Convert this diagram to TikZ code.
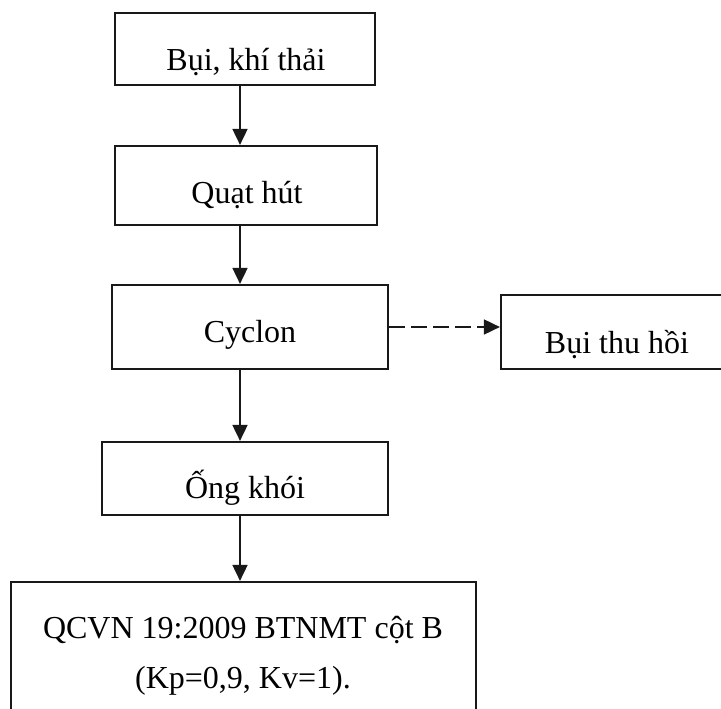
\documentclass[tikz,border=0pt]{standalone}
\usepackage{fontspec}
\setmainfont{Liberation Serif}
\usetikzlibrary{arrows.meta}

\tikzset{
  box/.style={draw=black!90, line width=2.2pt, rectangle, inner sep=0pt, fill=none},
  lbl/.style={anchor=base, inner sep=0pt, font=\fontsize{32}{40}\selectfont},
  flow/.style={draw=black!90, line width=1.8pt, -{Triangle[length=16pt,width=15pt]}},
  dflow/.style={flow, dash pattern=on 16pt off 6pt}
}

\begin{document}
\begin{tikzpicture}[x=1pt, y=-1pt]
  \useasboundingbox (0,0) rectangle (721,709);
  \clip (0,0) rectangle (721,709);
  \fill[white] (0,0) rectangle (721,709);

  % process boxes
  \node[box, minimum width=260pt, minimum height=72pt] (b1) at (245,49) {};
  \node[box, minimum width=262pt, minimum height=79pt] (b2) at (246,185.5) {};
  \node[box, minimum width=276pt, minimum height=84pt] (b3) at (250,327) {};
  \node[box, minimum width=239pt, minimum height=74pt] (b4) at (620.5,332) {};
  \node[box, minimum width=286pt, minimum height=73pt] (b5) at (245,478.5) {};
  \node[box, minimum width=465pt, minimum height=148pt] (b6) at (243.5,656) {};

  % box texts
  \node[lbl] (t1) at (246,71) {Bụi, khí thải};
  \node[lbl] (t2) at (247,203) {Quạt hút};
  \node[lbl] (t3) at (250,342) {Cyclon};
  \node[lbl] (t4) at (617,353) {Bụi thu hồi};
  \node[lbl] (t5) at (245,498) {Ống khói};
  \node[lbl] (t6a) at (243,638) {QCVN 19:2009 BTNMT cột B};
  \node[lbl] (t6b) at (243,688) {(Kp=0,9, Kv=1).};

  % main vertical flow axis
  \coordinate (axis) at (240,0);
  \draw[flow] (b1.south -| axis) -- (b2.north -| axis);
  \draw[flow] (b2.south -| axis) -- (b3.north -| axis);
  \draw[flow] (b3.south -| axis) -- (b5.north -| axis);
  \draw[flow] (b5.south -| axis) -- (b6.north -| axis);

  % recovered dust branch
  \draw[dflow] (b3.east) -- (b3.east -| b4.west);
\end{tikzpicture}
\end{document}
